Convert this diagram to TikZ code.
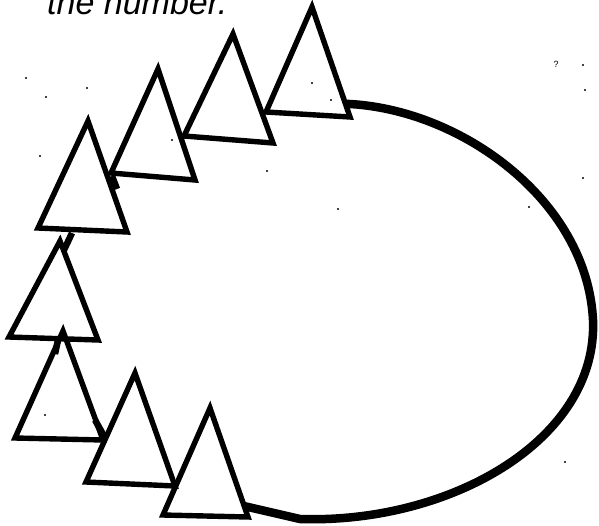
\documentclass[tikz,border=0pt]{standalone}
\usepackage{fontspec}
\setmainfont{Liberation Sans}
\usetikzlibrary{calc}
\begin{document}
\begin{tikzpicture}[x=1pt,y=-1pt,
  tri/.style={line width=5.4pt,line join=miter,black},
  loopline/.style={line width=8.5pt,black},
  link/.style={line width=6.5pt,black},
  speck/.style={fill=black,inner sep=0pt,minimum size=2.4pt,circle}]
\useasboundingbox (0,0) rectangle (599,525);
\begin{scope}
\clip (0,0) rectangle (599,525);
\node[anchor=base west,inner sep=0pt,font=\itshape\fontsize{34}{34}\selectfont] (title) at (47,14) {the number.};
\end{scope}
% triangles: apex a, left l, right r
\foreach \n/\ax/\ay/\lx/\ly/\rx/\ry in {
  1/312/7/266/112/350/117,
  2/233/34/184/136/273/143,
  3/158/69/111/173/195/180,
  4/88/121/38/228/127/232,
  5/60/241/9/337/98/340,
  6/63/331/15/438/103/440,
  7/135/373/86/482/175/486,
  8/210/408/163/515/248/517}{
  \coordinate (a\n) at (\ax,\ay);
  \coordinate (l\n) at (\lx,\ly);
  \coordinate (r\n) at (\rx,\ry);
  \draw[tri] (a\n) -- (l\n) -- (r\n) -- cycle;
}
% loop
\coordinate (s) at ($(a1)!0.88!(r1)$);
\coordinate (e) at ($(a8)!0.9!(r8)$);
\draw[loopline] (s) .. controls (460,108) and (587,200) .. (593,320)
  .. controls (598,440) and (450,524) .. (300,519) -- (e);
% short links
\draw[link] (112,176) -- (117,189);
\draw[link] (72,233) -- (64,250);
\draw[link] (58,340) -- (55,354);
\draw[link] (95,420) -- (104,436);
% specks
\foreach \p/\q in {26/78,46/97,87/88,40/156,172/140,267/171,312/83,331/100,
  583/65,585/90,583/178,338/209,529/207,565/462,45/415}{
  \node[speck] at (\p,\q) {};
}
\node[inner sep=0pt,font=\fontsize{9}{9}\selectfont] (q) at (556,64) {?};
\end{tikzpicture}
\end{document}
